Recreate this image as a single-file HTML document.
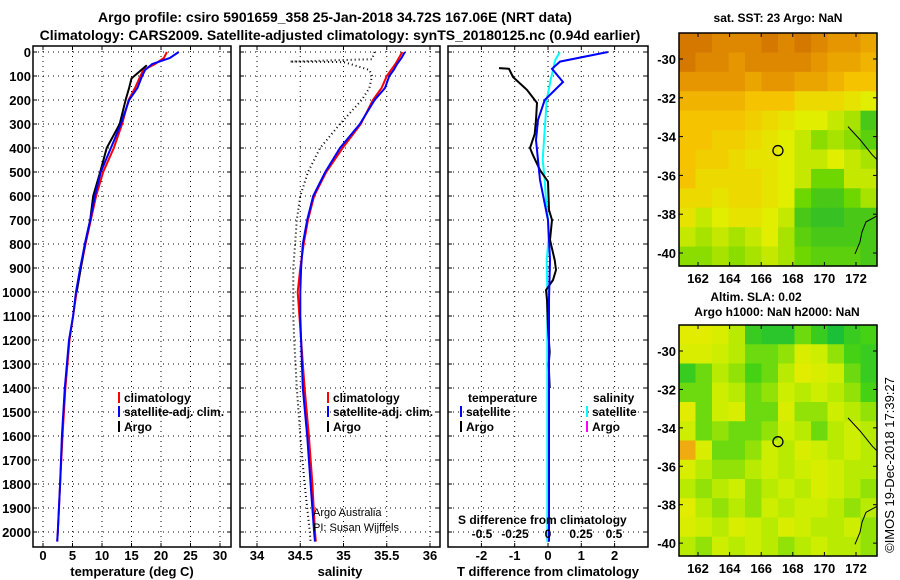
<!DOCTYPE html>
<html><head><meta charset="utf-8"><style>
html,body{margin:0;padding:0;background:#fff}
svg{display:block;font-family:"Liberation Sans",sans-serif;font-weight:bold}
</style></head><body>
<svg id="c" width="900" height="580" viewBox="0 0 900 580"></svg>
<script>
// ---------- data ----------
const depthsSat=[0,25,50,75,100,150,200,300,400,500,600,700,800,900,1000,1100,1200,1400,1600,1800,2000,2040];
const tempSat=[23,21.5,18.5,17.3,16.8,16,14.6,13.2,11.5,9.8,8.8,8,7.1,6.3,5.6,5.1,4.4,3.7,3.2,2.9,2.5,2.4];
const tempClim=[21,20.5,19,17,16.5,15.6,14.5,13.4,12,10.2,9,8.1,7.2,6.4,5.7,5.1,4.5,3.8,3.3,2.9,2.5,2.4];
const depthsArgo=[55,80,110,150,200,300,400,500,600,700,800,900,1000];
const tempArgo=[17.6,16.4,15,14.6,14,13,10.8,9.7,8.5,8,7.1,6.4,5.7];
const salSat=[35.71,35.67,35.62,35.58,35.53,35.48,35.36,35.19,34.96,34.79,34.65,34.58,34.53,34.51,34.5,34.5,34.51,34.53,34.58,34.62,34.66,34.67];
const salClim=[35.68,35.64,35.6,35.55,35.5,35.44,35.34,35.2,34.99,34.8,34.66,34.59,34.54,34.5,34.47,34.49,34.51,34.55,34.6,34.64,34.67,34.68];
const depthsArgoS=[0,30,40,42,50,75,100,150,200,300,400,500,600,700,800,900,1000,1100,1200,1400,1600,1800,2000,2040];
const salArgo=[35.36,35.33,34.38,35.0,35.08,35.3,35.33,35.3,35.21,34.96,34.73,34.59,34.5,34.46,34.44,34.42,34.42,34.42,34.43,34.46,34.5,34.55,34.61,34.62];
const depthsDT=[0,40,70,125,200,283,367,450,533,617,700,867,1033,1200,1400,1600,1800,2000,2040];
const dTSat=[1.8,0.36,0.12,0.45,-0.1,-0.3,-0.36,-0.3,-0.24,-0.12,0,0.06,0.03,0.03,0.03,0.03,0.03,0.03,0.03];
const depthsDTArgo=[67,70,104,158,212,283,342,400,430,492,540,658,700,783,867,908,950,992,1033,1150,1250,1300,1400];
const dTArgo=[-1.47,-1.17,-1.05,-0.63,-0.33,-0.36,-0.4,-0.54,-0.45,-0.24,0,0.03,0.12,0.06,0.2,0.24,0.15,-0.06,-0.03,0.0,0.05,0.02,0.05];
const depthsDS=[0,33,117,200,283,367,450,533,617,700,783,867,1000,1200,1400,1600,1800,2000,2040];
const dSSat=[0.09,0.055,0.02,-0.01,-0.02,-0.03,-0.04,-0.025,-0.015,0,0.004,-0.01,-0.005,-0.005,-0.005,-0.005,-0.005,-0.005,-0.005];
const depthTicks=[0,100,200,300,400,500,600,700,800,900,1000,1100,1200,1300,1400,1500,1600,1700,1800,1900,2000];
const tTicks=[0,5,10,15,20,25,30];
const sTicks=[34,34.5,35,35.5,36];
const dTTicks=[-2,-1,0,1,2];
const dSTicks=[-0.5,-0.25,0,0.25,0.5];
const lonTicks=[162,164,166,168,170,172];
const latTicks=[-30,-32,-34,-36,-38,-40];
const sstGrid=[
[.95,.95,.9,.9,.9,.95,.9,.95,.9,.85,.85,.8],
[.95,.9,.9,.85,.9,.9,.9,.9,.85,.8,.8,.75],
[.85,.85,.85,.85,.8,.85,.85,.8,.8,.75,.7,.7],
[.75,.75,.75,.75,.7,.7,.7,.6,.6,.6,.55,.5],
[.7,.7,.7,.7,.65,.6,.55,.5,.5,.45,.4,.2],
[.7,.7,.65,.65,.6,.55,.5,.45,.35,.4,.35,.25],
[.7,.65,.65,.6,.55,.55,.5,.45,.45,.5,.45,.4],
[.7,.6,.6,.6,.6,.55,.5,.45,.3,.3,.45,.45],
[.6,.6,.55,.6,.6,.55,.5,.3,.2,.2,.3,.4],
[.55,.45,.5,.55,.55,.5,.45,.2,.15,.15,.2,.2],
[.45,.4,.45,.4,.45,.5,.4,.25,.2,.2,.2,.2],
[.35,.35,.4,.35,.4,.45,.4,.3,.25,.25,.25,.2]];
const slaGrid=[
[.55,.55,.5,.4,.2,.15,.15,.3,.2,.1,.2,.25],
[.5,.5,.45,.4,.3,.3,.35,.5,.45,.35,.25,.2],
[.2,.3,.4,.35,.25,.3,.4,.55,.5,.45,.3,.2],
[.3,.3,.45,.4,.3,.35,.45,.4,.45,.4,.35,.25],
[.55,.3,.45,.5,.3,.3,.5,.35,.35,.45,.4,.35],
[.45,.3,.35,.3,.3,.35,.45,.4,.3,.4,.45,.4],
[.75,.5,.3,.3,.35,.45,.4,.5,.45,.4,.45,.4],
[.5,.4,.35,.35,.4,.45,.4,.45,.5,.45,.4,.4],
[.4,.35,.4,.45,.35,.4,.45,.4,.5,.45,.4,.35],
[.55,.4,.35,.4,.35,.45,.4,.45,.45,.4,.35,.4],
[.5,.45,.4,.5,.45,.4,.5,.45,.4,.4,.45,.35],
[.4,.35,.45,.4,.45,.4,.35,.4,.45,.4,.4,.35]];
const argoLon=167.06, argoLat=-34.72;

// ---------- helpers ----------
const svg=document.getElementById('c');const NS='http://www.w3.org/2000/svg';
function el(t,a,p){const e=document.createElementNS(NS,t);for(const k in a)e.setAttribute(k,a[k]);(p||svg).appendChild(e);return e;}
function txt(x,y,s,o){o=o||{};const e=el('text',{x:x,y:y,'font-size':o.fs||13,'text-anchor':o.a||'start','font-weight':o.w||'bold',fill:o.c||'#000'});if(o.tr)e.setAttribute('transform',o.tr);e.textContent=s;return e;}
const Y=d=>52+0.24*d;
const xT=v=>43+5.9*v, xS=v=>257+86.5*(v-34), xDT=v=>548+33.3*v, xDS=v=>548+132*v;
const PY0=46,PY1=547;
function panel(x0,x1,name,xt,xf,xlab){
  const g=el('g',{});
  
  
  depthTicks.forEach(d=>{el('line',{x1:x0,x2:x1,y1:Y(d),y2:Y(d),stroke:'#000','stroke-dasharray':'1,4'},g);
    el('line',{x1:x0,x2:x0+4,y1:Y(d),y2:Y(d),stroke:'#000'},g);el('line',{x1:x1-4,x2:x1,y1:Y(d),y2:Y(d),stroke:'#000'},g);});
  xt.forEach(v=>{const x=xf(v);el('line',{x1:x,x2:x,y1:PY0,y2:PY1,stroke:'#000','stroke-dasharray':'1,4'},g);
    el('line',{x1:x,x2:x,y1:PY1-4,y2:PY1,stroke:'#000'},g);el('line',{x1:x,x2:x,y1:PY0,y2:PY0+4,stroke:'#000'},g);
    const t=txt(x,560,String(v),{a:'middle'});});
  el('rect',{x:x0,y:PY0,width:x1-x0,height:PY1-PY0,fill:'none',stroke:'#000','stroke-width':1.5},g);
  const xl=txt((x0+x1)/2,576,xlab,{a:'middle'});
  
  return g;
}
function line(ds,vs,xf,col,w,dash,name){
  const pts=ds.map((d,i)=>xf(vs[i]).toFixed(1)+','+Y(d).toFixed(1)).join(' ');
  const p=el('polyline',{points:pts,fill:'none',stroke:col,'stroke-width':w});
  if(dash)p.setAttribute('stroke-dasharray',dash);
  
  
}
let t=txt(335,22,'Argo profile: csiro 5901659_358 25-Jan-2018 34.72S 167.06E (NRT data)',{a:'middle',fs:14});

t=txt(340,40,'Climatology: CARS2009. Satellite-adjusted climatology: synTS_20180125.nc (0.94d earlier)',{a:'middle',fs:14});


panel(33,231,'temperature-panel',tTicks,xT,'temperature (deg C)');
depthTicks.forEach(d=>{const l=txt(31,Y(d)+5,String(d),{a:'end'});});
line(depthsSat,tempClim,xT,'#f00',2,null,'temp-climatology-line');
line(depthsArgo,tempArgo,xT,'#000',2,null,'temp-argo-line');
line(depthsSat,tempSat,xT,'#0000ff',2,null,'temp-satellite-line');
function legend(x,y,col,label,name){const g=el('g',{});
  el('rect',{x:x,y:y-10,width:2,height:11,fill:col},g);const tt=txt(x+6,y,label,{fs:12});g.appendChild(tt);}
legend(118,402,'#f00','climatology','legend-climatology');
legend(118,416,'#0000ff','satellite-adj. clim.','legend-satellite-adj');
legend(118,431,'#000','Argo','legend-argo');

panel(240,440,'salinity-panel',sTicks,xS,'salinity');
line(depthsArgoS,salArgo,xS,'#000',2,'1,3','sal-argo-line');
line(depthsSat,salClim,xS,'#f00',2,null,'sal-climatology-line');
line(depthsSat,salSat,xS,'#0000ff',2,null,'sal-satellite-line');
legend(327,402,'#f00','climatology','legend-sal-climatology');
legend(327,416,'#0000ff','satellite-adj. clim.','legend-sal-satellite-adj');
legend(327,431,'#000','Argo','legend-sal-argo');
t=txt(313,516,'Argo Australia',{fs:11,w:'normal'});
t=txt(313,531,'PI: Susan Wijffels',{fs:11,w:'normal'});

panel(448,648,'difference-panel',dTTicks,xDT,'T difference from climatology');
line(depthsDS,dSSat,xDS,'#00ffff',2,null,'sal-diff-satellite-line');
line(depthsDTArgo,dTArgo,xDT,'#000',2,null,'temp-diff-argo-line');
line(depthsDT,dTSat,xDT,'#0000ff',2,null,'temp-diff-satellite-line');
t=txt(468,402,'temperature',{fs:12});
legend(460,416,'#0000ff','satellite','legend-t-satellite');
legend(460,431,'#000','Argo','legend-t-argo');
t=txt(593,402,'salinity',{fs:12});
legend(586,416,'#00ffff','satellite','legend-s-satellite');
legend(586,431,'#ff00ff','Argo','legend-s-argo');
t=txt(458,524,'S difference from climatology',{fs:12});
dSTicks.forEach(v=>{const l=txt(xDS(v),538,String(v),{a:'middle',fs:12});});

function sstColor(v){const st=[[0,[0,170,70]],[.3,[110,215,0]],[.5,[225,238,0]],[.7,[245,195,0]],[.85,[230,150,0]],[1,[205,105,0]]];
  for(let i=1;i<st.length;i++){if(v<=st[i][0]){const a=st[i-1],b=st[i],f=(v-a[0])/(b[0]-a[0]);return 'rgb('+a[1].map((c,k)=>Math.round(c+(b[1][k]-c)*f)).join(',')+')';}}return 'rgb(205,105,0)';}
function slaColor(v){const st=[[0,[0,180,80]],[.25,[70,210,20]],[.42,[200,238,0]],[.6,[235,235,0]],[.8,[240,150,20]],[1,[220,90,0]]];
  for(let i=1;i<st.length;i++){if(v<=st[i][0]){const a=st[i-1],b=st[i],f=(v-a[0])/(b[0]-a[0]);return 'rgb('+a[1].map((c,k)=>Math.round(c+(b[1][k]-c)*f)).join(',')+')';}}return 'rgb(220,90,0)';}
function map(top,bot,latY30,grid,cf,name){
  const x0=679,x1=877,lonX=l=>698+15.8*(l-162);
  const sc=(bot-latY30)/10.67;const LY=l=>latY30+(-30-l)*sc;
  const g=el('g',{});
  const rows=grid.length,cols=grid[0].length,cw=(x1-x0)/cols,ch=(bot-top)/rows;
  grid.forEach((r,i)=>r.forEach((v,j)=>{const c=el('rect',{x:(x0+j*cw).toFixed(2),y:(top+i*ch).toFixed(2),width:(cw+0.6).toFixed(2),height:(ch+0.6).toFixed(2),fill:cf(v)},g);
    }));
  el('polyline',{points:'848,127 860,140 872,155 877,160',fill:'none',stroke:'#000','stroke-width':1},g).setAttribute('transform','translate(0,'+(LY(-34)-137)+')');
  el('polyline',{points:'877,224 866,230 862,240 860,250 855,262',fill:'none',stroke:'#000','stroke-width':1},g).setAttribute('transform','translate(0,'+(LY(-38.5)-232)+')');
  el('rect',{x:x0,y:top,width:x1-x0,height:bot-top,fill:'none',stroke:'#000','stroke-width':1.5},g);
  lonTicks.forEach(l=>{const x=lonX(l);el('line',{x1:x,x2:x,y1:bot-4,y2:bot,stroke:'#000'},g);el('line',{x1:x,x2:x,y1:top,y2:top+4,stroke:'#000'},g);
    const tl=txt(x,bot+17,String(l),{a:'middle'});});
  latTicks.forEach(l=>{const y=LY(l);el('line',{x1:x1-4,x2:x1,y1:y,y2:y,stroke:'#000'},g);el('line',{x1:x0,x2:x0+4,y1:y,y2:y,stroke:'#000'},g);
    const tl=txt(676,y+5,String(l),{a:'end'});});
  const c=el('circle',{cx:lonX(argoLon),cy:LY(argoLat),r:5,fill:'none',stroke:'#000','stroke-width':1.3},g);
  
}
map(33,266,59,sstGrid,sstColor,'sst-map');
map(325,556,351,slaGrid,slaColor,'sla-map');
t=txt(778,22,'sat. SST: 23 Argo: NaN',{a:'middle',fs:12});
t=txt(756,301,'Altim. SLA: 0.02',{a:'middle',fs:12});
t=txt(777,316,'Argo h1000: NaN h2000: NaN',{a:'middle',fs:12});
t=txt(0,0,'©IMOS 19-Dec-2018 17:39:27',{a:'middle',fs:13,w:'normal',tr:'translate(894,465) rotate(-90)'});

</script>
</body></html>
